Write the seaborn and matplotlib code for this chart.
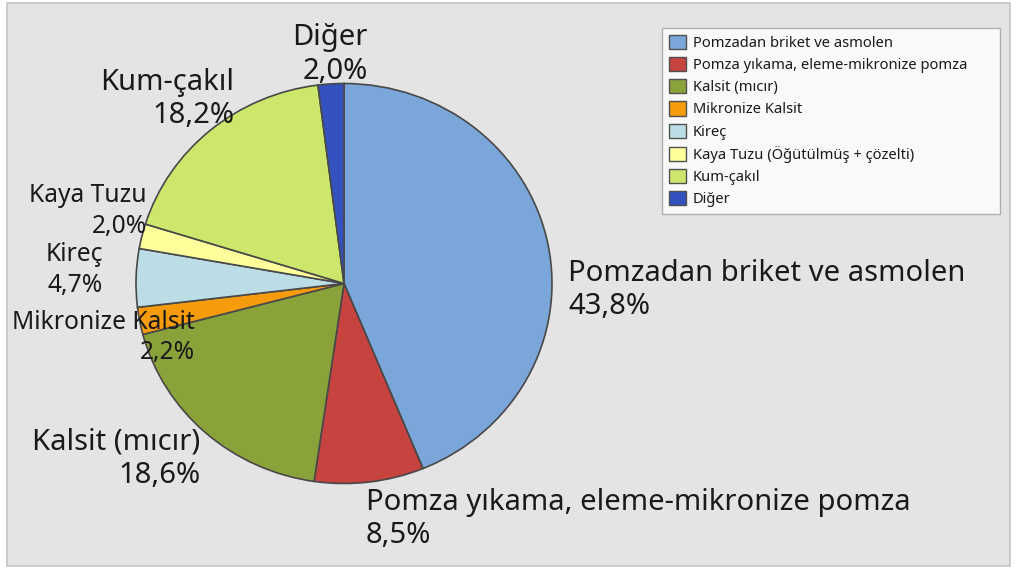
import matplotlib
matplotlib.use("Agg")
import matplotlib.pyplot as plt
from matplotlib.patches import Rectangle, Patch
import seaborn as sns

# Pumice-related production shares (%)
categories = [
    "Pomzadan briket ve asmolen",
    "Pomza yıkama, eleme-mikronize pomza",
    "Kalsit (mıcır)",
    "Mikronize Kalsit",
    "Kireç",
    "Kaya Tuzu (Öğütülmüş + çözelti)",
    "Kum-çakıl",
    "Diğer",
]
short_labels = [
    "Pomzadan briket ve asmolen",
    "Pomza yıkama, eleme-mikronize pomza",
    "Kalsit (mıcır)",
    "Mikronize Kalsit",
    "Kireç",
    "Kaya Tuzu",
    "Kum-çakıl",
    "Diğer",
]
shares = [43.8, 8.5, 18.6, 2.2, 4.7, 2.0, 18.2, 2.0]
colors = ["#7BA6DA", "#C6433F", "#8AA23A", "#F59B0C",
          "#BCDCE6", "#FFFF9C", "#CCE76B", "#3352C0"]

sns.set_theme(style="white")
plt.rcParams["font.family"] = ["Noto Sans", "DejaVu Sans"]

W, H = 1016, 571
fig = plt.figure(figsize=(W / 100, H / 100), dpi=100)
fig.patch.set_facecolor("white")

# grey panel with thin frame
fig.add_artist(Rectangle((7 / W, 1 - 566 / H), (1010 - 7) / W, (566 - 3) / H,
                         transform=fig.transFigure, facecolor="#E4E4E4",
                         edgecolor="#C4C4C4", linewidth=1.2, zorder=0))

ax = fig.add_axes([0, 0, 1, 1])
ax.patch.set_alpha(0)

wedges, _ = ax.pie(shares, colors=colors, startangle=90, counterclock=False,
                   wedgeprops=dict(edgecolor="#484848", linewidth=1.2))
ax.set_aspect("auto")

# pixel scale of one pie radius and pie centre
sx, sy = 208.0, 200.0
cx, cy = 344.0, 283.5
ax.set_xlim(-cx / sx, (W - cx) / sx)
ax.set_ylim(-(H - cy) / sy, cy / sy)
ax.axis("off")

# label anchors (in pie radii), alignment, font size, line spacing
layout = [
    (1.077, -0.033, "left", 21, 1.2),
    (0.106, -1.178, "left", 21, 1.2),
    (-0.692, -0.878, "right", 21, 1.2),
    (-0.716, -0.270, "right", 17.7, 1.3),
    (-1.159, 0.066, "right", 17.7, 1.3),
    (-0.947, 0.364, "right", 17.7, 1.3),
    (-0.529, 0.923, "right", 21, 1.2),
    (0.115, 1.145, "right", 21, 1.2),
]
for name, val, (x, y, ha, fs, ls) in zip(short_labels, shares, layout):
    pct = f"{val:.1f}".replace(".", ",") + "%"
    ax.text(x, y, f"{name}\n{pct}", ha=ha, va="center", fontsize=fs,
            color="#1A1A1A", linespacing=ls, multialignment=ha)

handles = [Patch(facecolor=c, edgecolor="#505050", linewidth=1.0) for c in colors]
leg = fig.legend(handles, categories, loc="upper left",
                 bbox_to_anchor=(662 / W, 1 - 212 / H, (1000 - 662) / W, (212 - 28) / H),
                 mode="expand", fontsize=10.6, frameon=True, fancybox=False,
                 handlelength=1.15, handleheight=1.1, handletextpad=0.5,
                 labelspacing=0.42, borderpad=0.45, borderaxespad=0)
leg.get_frame().set_edgecolor("#A0A0A0")
leg.get_frame().set_linewidth(1.0)
for t in leg.get_texts():
    t.set_color("#1A1A1A")

fig.savefig("out.png", dpi=100, facecolor="white")
